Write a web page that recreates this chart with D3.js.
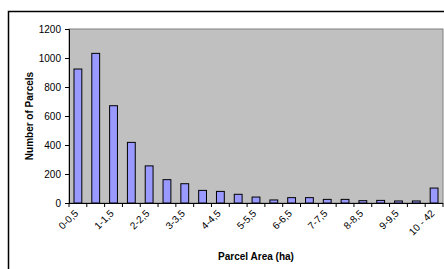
<!DOCTYPE html>
<html><head><meta charset="utf-8">
<script src="https://cdn.jsdelivr.net/npm/d3@7"></script>
<style>body{margin:0;background:#fff}svg{display:block}</style>
</head><body>
<script>
const categories = ["0-0,5","0,5-1","1-1,5","1,5-2","2-2,5","2,5-3","3-3,5","3,5-4","4-4,5","4,5-5","5-5,5","5,5-6","6-6,5","6,5-7","7-7,5","7,5-8","8-8,5","8,5-9","9-9,5","9,5-10","10 - 42"];
const values = [924,1032,671,418,256,161,133,87,80,60,41,21,37,37,25,25,16,18,14,14,103];
const yTicks = [0,200,400,600,800,1000,1200];
const shownLabels = ["0-0,5","1-1,5","2-2,5","3-3,5","4-4,5","5-5,5","6-6,5","7-7,5","8-8,5","9-9,5","10 - 42"];

const W=444,H=269;
const FONT="Arial, 'Liberation Sans', sans-serif";
const svg=d3.select("body").append("svg").attr("width",W).attr("height",H);
svg.append("rect").attr("x",8.5).attr("y",11.5).attr("width",600).attr("height",400)
  .attr("fill","#fff").attr("stroke","#000").attr("stroke-width",1.5);

const L=69,R=443,T=29,B=203;
const x=d3.scaleBand().domain(categories).range([L,R]).paddingInner(0.56).paddingOuter(0.28);
const y=d3.scaleLinear().domain([0,1200]).range([B,T]);

svg.append("rect").attr("x",L).attr("y",T).attr("width",R-L).attr("height",B-T)
  .attr("fill","#c0c0c0").attr("stroke","#808080").attr("stroke-width",1);

svg.selectAll("rect.bar").data(values).join("rect").attr("class","bar")
  .attr("x",(d,i)=>x(categories[i])).attr("width",x.bandwidth())
  .attr("y",d=>y(d)).attr("height",d=>B-y(d))
  .attr("fill","#9999ff").attr("stroke","#000").attr("stroke-width",1);

// y axis
const ya=svg.append("g").attr("transform",`translate(${L},0)`)
  .call(d3.axisLeft(y).tickValues(yTicks).tickSize(4).tickPadding(4).tickFormat(d3.format("d")));
ya.select(".domain").attr("stroke","#000");
ya.selectAll("text").attr("font-family",FONT).attr("font-size","10px").attr("fill","#000");

// x axis line with ticks at band boundaries
const step=(R-L)/categories.length;
const xg=svg.append("g");
xg.append("line").attr("x1",L).attr("x2",R).attr("y1",B+0.5).attr("y2",B+0.5).attr("stroke","#000");
xg.selectAll("line.t").data(d3.range(categories.length+1)).join("line").attr("class","t")
  .attr("x1",i=>L+i*step).attr("x2",i=>L+i*step).attr("y1",B).attr("y2",B+4).attr("stroke","#000");
xg.selectAll("text").data(shownLabels).join("text")
  .attr("transform",d=>`translate(${x(d)+x.bandwidth()/2+1},${B+11}) rotate(-45)`)
  .attr("text-anchor","end").attr("font-family",FONT)
  .attr("font-size","10px").attr("fill","#000").text(d=>d);

svg.append("text").attr("x",(L+R)/2).attr("y",260).attr("text-anchor","middle")
  .attr("font-family",FONT).attr("font-size","10px").attr("font-weight","bold").text("Parcel Area (ha)");
svg.append("text").attr("transform",`translate(33,${(T+B)/2}) rotate(-90)`).attr("text-anchor","middle")
  .attr("font-family",FONT).attr("font-size","10px").attr("font-weight","bold").text("Number of Parcels");
</script>
</body></html>
